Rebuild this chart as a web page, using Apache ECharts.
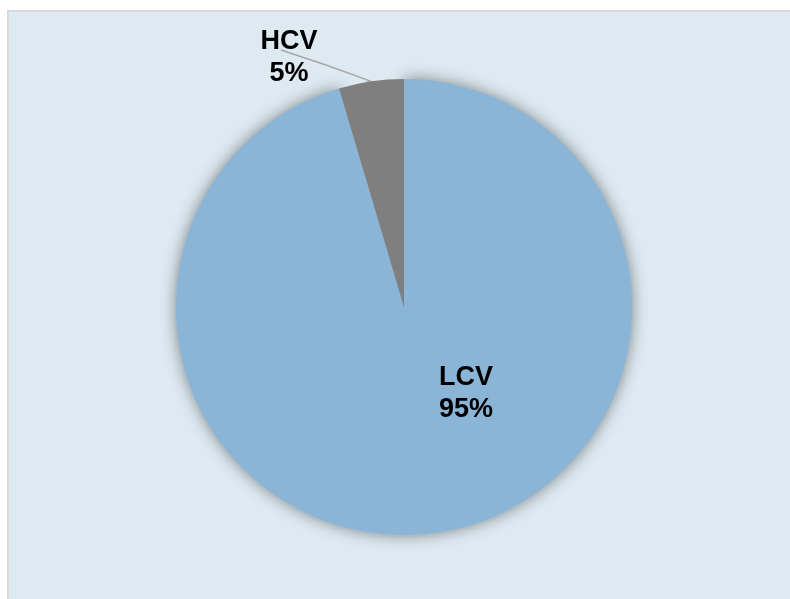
<!DOCTYPE html>
<html>
<head>
<meta charset="utf-8">
<script src="https://cdn.jsdelivr.net/npm/echarts@6/dist/echarts.min.js"></script>
<style>
  body { margin: 0; background: #fff; }
  #bg { position: absolute; left: 7px; top: 10px; right: 0; bottom: 0;
        background: #deeaf2; border-left: 2px solid #d9d9d9; border-top: 2px solid #d9d9d9; }
  #main { position: absolute; left: 0; top: 0; width: 790px; height: 599px; }
</style>
</head>
<body>
<div id="bg"></div>
<div id="main"></div>
<script>
// 数据
var categories = ['LCV', 'HCV'];
var shares = [95.4, 4.6];
var colors = ['#8bb5d6', '#7f7f7f'];

var myChart = echarts.init(document.getElementById('main'));

var data = categories.map(function (name, i) {
    return {
        name: name,
        value: shares[i],
        itemStyle: i === 0
            ? { color: colors[i], shadowBlur: 16, shadowColor: 'rgba(0,0,0,0.45)' }
            : { color: colors[i] },
        label: { position: i === 0 ? 'inside' : 'outside' },
        labelLine: { show: i !== 0 }
    };
});

var options = {
    backgroundColor: 'transparent',
    animation: false,
    series: [{
        type: 'pie',
        center: [404, 307],
        radius: 228,
        startAngle: 90,
        clockwise: true,
        data: data,
        label: {
            color: '#000',
            fontFamily: 'Liberation Sans, Arial, sans-serif',
            fontWeight: 'bold',
            fontSize: 27,
            lineHeight: 32,
            align: 'center',
            formatter: function (p) {
                return p.name + '\n' + Math.round(p.percent) + '%';
            }
        },
        labelLine: {
            lineStyle: { color: '#a6a6a6', width: 1.5 }
        },
        labelLayout: function (params) {
            if (params.dataIndex === 0) {
                return { x: 466, y: 394, align: 'center', verticalAlign: 'middle' };
            }
            var start = params.labelLinePoints ? params.labelLinePoints[0] : [371, 81];
            return {
                x: 289, y: 58, align: 'center', verticalAlign: 'middle',
                labelLinePoints: [start, [326, 65], [281, 50]]
            };
        }
    }]
};
myChart.setOption(options);
</script>
</body>
</html>
